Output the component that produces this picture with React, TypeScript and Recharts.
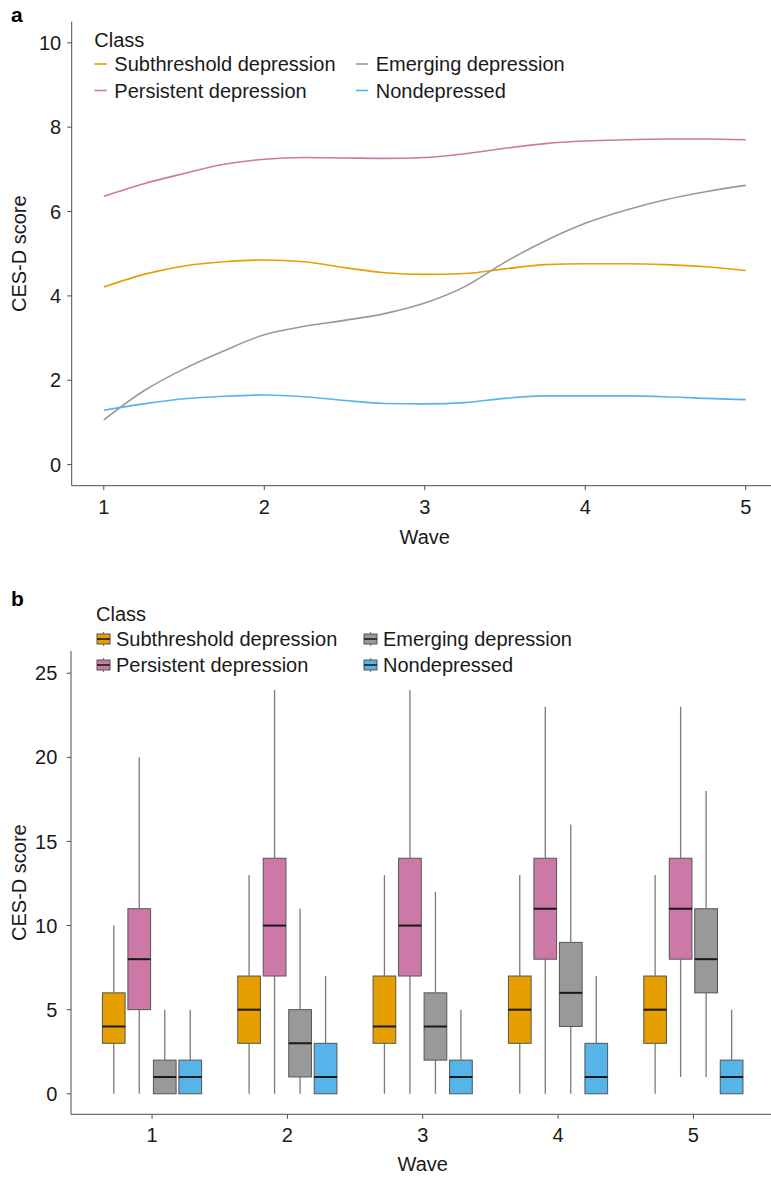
import { LineChart, Line, BarChart, Bar, XAxis, YAxis, Label } from "recharts";

const FONT = '"Liberation Sans", Arial, Helvetica, sans-serif';
const INK = "#1a1a1a";
const AXIS = "#4d4d4d";

const classNames = ["Subthreshold depression", "Persistent depression", "Emerging depression", "Nondepressed"];
const classKeys = ["sub", "pers", "emer", "non"];
const classColors = ["#E69F00", "#CC79A7", "#999999", "#56B4E9"];

const waveSteps = [1, 1.25, 1.5, 1.75, 2, 2.25, 2.5, 2.75, 3, 3.25, 3.5, 3.75, 4, 4.25, 4.5, 4.75, 5];
const subthresholdTrend = [4.21, 4.51, 4.71, 4.81, 4.85, 4.81, 4.67, 4.55, 4.51, 4.53, 4.64, 4.74, 4.76, 4.76, 4.74, 4.69, 4.6];
const persistentTrend = [6.36, 6.66, 6.9, 7.12, 7.24, 7.28, 7.27, 7.26, 7.28, 7.37, 7.5, 7.61, 7.67, 7.7, 7.72, 7.72, 7.7];
const emergingTrend = [1.06, 1.75, 2.27, 2.7, 3.08, 3.28, 3.42, 3.58, 3.83, 4.22, 4.8, 5.3, 5.72, 6.03, 6.28, 6.47, 6.62];
const nondepressedTrend = [1.29, 1.44, 1.56, 1.62, 1.65, 1.61, 1.52, 1.45, 1.44, 1.47, 1.57, 1.63, 1.63, 1.63, 1.61, 1.57, 1.54];
const waveTicks = [1, 2, 3, 4, 5];

// panel b: [min, q1, median, q3, max] for each wave
const waves = ["1", "2", "3", "4", "5"];
const subthresholdBoxes = [[0, 3, 4, 6, 10], [0, 3, 5, 7, 13], [0, 3, 4, 7, 13], [0, 3, 5, 7, 13], [0, 3, 5, 7, 13]];
const persistentBoxes = [[0, 5, 8, 11, 20], [0, 7, 10, 14, 24], [0, 7, 10, 14, 24], [0, 8, 11, 14, 23], [1, 8, 11, 14, 23]];
const emergingBoxes = [[0, 0, 1, 2, 5], [0, 1, 3, 5, 11], [0, 2, 4, 6, 12], [0, 4, 6, 9, 16], [1, 6, 8, 11, 18]];
const nondepressedBoxes = [[0, 0, 1, 2, 5], [0, 0, 1, 3, 7], [0, 0, 1, 2, 5], [0, 0, 1, 3, 7], [0, 0, 1, 2, 5]];
const scoreTicks = [0, 5, 10, 15, 20, 25];

const trends = [subthresholdTrend, persistentTrend, emergingTrend, nondepressedTrend];
const boxes = [subthresholdBoxes, persistentBoxes, emergingBoxes, nondepressedBoxes];

const lineData = waveSteps.map((w, i) => {
  const row: Record<string, number> = { wave: w };
  classKeys.forEach((k, j) => (row[k] = trends[j][i]));
  return row;
});

// stacked segments: invisible base, lower whisker, lower box, upper box, upper whisker
const boxData = waves.map((w, i) => {
  const row: Record<string, number | string> = { wave: w };
  classKeys.forEach((k, j) => {
    const [mn, q1, md, q3, mx] = boxes[j][i];
    row[k + "_base"] = mn;
    row[k + "_lw"] = q1 - mn;
    row[k + "_lb"] = md - q1;
    row[k + "_ub"] = q3 - md;
    row[k + "_uw"] = mx - q3;
  });
  return row;
});

const Empty = () => <g />;

const Whisker = (p: any) => {
  const h = Math.abs(p.height || 0);
  if (!h) return <g />;
  const cx = p.x + p.width / 2;
  const top = Math.min(p.y, p.y + p.height);
  return <line x1={cx} x2={cx} y1={top} y2={top + h} stroke="#7a7a7a" strokeWidth={1.3} />;
};

const LowerBox = (p: any) => {
  const top = Math.min(p.y, p.y + p.height);
  const h = Math.abs(p.height || 0);
  return (
    <g>
      <rect x={p.x} y={top} width={p.width} height={h} fill={p.fill} stroke="#555" strokeWidth={1} />
    </g>
  );
};

const UpperBox = (p: any) => {
  const top = Math.min(p.y, p.y + p.height);
  const h = Math.abs(p.height || 0);
  return (
    <g>
      <rect x={p.x} y={top} width={p.width} height={h} fill={p.fill} stroke="#555" strokeWidth={1} />
      <line x1={p.x} x2={p.x + p.width} y1={top + h} y2={top + h} stroke={INK} strokeWidth={2} />
    </g>
  );
};

const legendOrder = [0, 2, 1, 3];

function LineLegend() {
  return (
    <svg width={771} height={110} style={{ position: "absolute", left: 0, top: 0 }}>
      <text x={11} y={21.7} fontSize={21} fontWeight="bold" fill="#000">a</text>
      <text x={94.3} y={46.7} fontSize={20} fill={INK}>Class</text>
      {legendOrder.map((ci, n) => {
        const col = n % 2;
        const r = Math.floor(n / 2);
        const kx = col === 0 ? 94.3 : 355.7;
        const ky = 64 + r * 26.5;
        return (
          <g key={ci}>
            <line x1={kx} x2={kx + 12.4} y1={ky} y2={ky} stroke={classColors[ci]} strokeWidth={1.6} />
            <text x={kx + 20} y={ky + 7.3} fontSize={20} fill={INK}>{classNames[ci]}</text>
          </g>
        );
      })}
    </svg>
  );
}

function BoxLegend() {
  return (
    <svg width={771} height={100} style={{ position: "absolute", left: 0, top: 580 }}>
      <text x={11} y={25.7} fontSize={21} fontWeight="bold" fill="#000">b</text>
      <text x={96} y={40.7} fontSize={20} fill={INK}>Class</text>
      {legendOrder.map((ci, n) => {
        const col = n % 2;
        const r = Math.floor(n / 2);
        const kx = col === 0 ? 97 : 364;
        const ky = 59 + r * 26;
        return (
          <g key={ci}>
            <line x1={kx + 6.5} x2={kx + 6.5} y1={ky - 7} y2={ky + 7} stroke="#7a7a7a" strokeWidth={1.2} />
            <rect x={kx} y={ky - 5} width={13} height={10} fill={classColors[ci]} stroke="#555" strokeWidth={1} />
            <line x1={kx} x2={kx + 13} y1={ky} y2={ky} stroke={INK} strokeWidth={1.6} />
            <text x={kx + 19} y={ky + 6.5} fontSize={20} fill={INK}>{classNames[ci]}</text>
          </g>
        );
      })}
    </svg>
  );
}

export default function App() {
  return (
    <div
      style={{
        position: "absolute",
        left: 0,
        top: 0,
        width: 771,
        height: 1178,
        overflow: "hidden",
        background: "#fff",
        fontFamily: FONT,
      }}
    >
      <div style={{ position: "absolute", left: 0, top: 0 }}>
        <LineChart width={800} height={560} data={lineData} margin={{ top: 21.7, right: 22.2, left: 0, bottom: 14.3 }}>
          <XAxis
            dataKey="wave"
            type="number"
            domain={[0.8, 5.2]}
            ticks={waveTicks}
            allowDataOverflow
            height={60}
            stroke={AXIS}
            tickSize={4.5}
            tickMargin={10}
            tick={{ fill: INK, fontSize: 20 }}
          >
            <Label value="Wave" position="insideBottom" offset={2} fill={INK} fontSize={20} />
          </XAxis>
          <YAxis
            type="number"
            domain={[-0.5, 10.5]}
            ticks={[0, 2, 4, 6, 8, 10]}
            allowDataOverflow
            width={71.7}
            stroke={AXIS}
            tickSize={4.5}
            tickMargin={6}
            tick={{ fill: INK, fontSize: 20 }}
          >
            <Label
              value="CES-D score"
              angle={-90}
              position="insideLeft"
              offset={18.5}
              fill={INK}
              fontSize={20}
              style={{ textAnchor: "middle" }}
            />
          </YAxis>
          {classKeys.map((k, i) => (
            <Line
              key={k}
              type="monotone"
              dataKey={k}
              name={classNames[i]}
              stroke={classColors[i]}
              strokeWidth={1.6}
              dot={false}
              activeDot={false}
              isAnimationActive={false}
            />
          ))}
        </LineChart>
      </div>
      <LineLegend />

      <div style={{ position: "absolute", left: 0, top: 580 }}>
        <BarChart
          width={800}
          height={598}
          data={boxData}
          margin={{ top: 71, right: 25.5, left: 0, bottom: 3.7 }}
          barSize={22.7}
          barGap={2.8}
        >
          <XAxis
            dataKey="wave"
            padding={{ left: 13.4, right: 13.4 }}
            height={60}
            stroke={AXIS}
            tickSize={4.5}
            tickMargin={9}
            tick={{ fill: INK, fontSize: 20 }}
          >
            <Label value="Wave" position="insideBottom" offset={3.3} fill={INK} fontSize={20} />
          </XAxis>
          <YAxis
            type="number"
            domain={[-1.22, 26.32]}
            ticks={scoreTicks}
            allowDataOverflow
            width={71}
            stroke={AXIS}
            tickSize={4.3}
            tickMargin={9.4}
            tick={{ fill: INK, fontSize: 20 }}
          >
            <Label
              value="CES-D score"
              angle={-90}
              position="insideLeft"
              offset={18.5}
              fill={INK}
              fontSize={20}
              style={{ textAnchor: "middle" }}
            />
          </YAxis>
          {classKeys.flatMap((k, i) => [
            <Bar key={k + "b"} dataKey={k + "_base"} stackId={k} fill="none" shape={Empty} isAnimationActive={false} />,
            <Bar key={k + "lw"} dataKey={k + "_lw"} stackId={k} fill={classColors[i]} shape={Whisker} isAnimationActive={false} />,
            <Bar key={k + "lb"} dataKey={k + "_lb"} stackId={k} fill={classColors[i]} shape={LowerBox} isAnimationActive={false} />,
            <Bar key={k + "ub"} dataKey={k + "_ub"} stackId={k} fill={classColors[i]} shape={UpperBox} isAnimationActive={false} />,
            <Bar key={k + "uw"} dataKey={k + "_uw"} stackId={k} fill={classColors[i]} shape={Whisker} isAnimationActive={false} />,
          ])}
        </BarChart>
      </div>
      <BoxLegend />
    </div>
  );
}
